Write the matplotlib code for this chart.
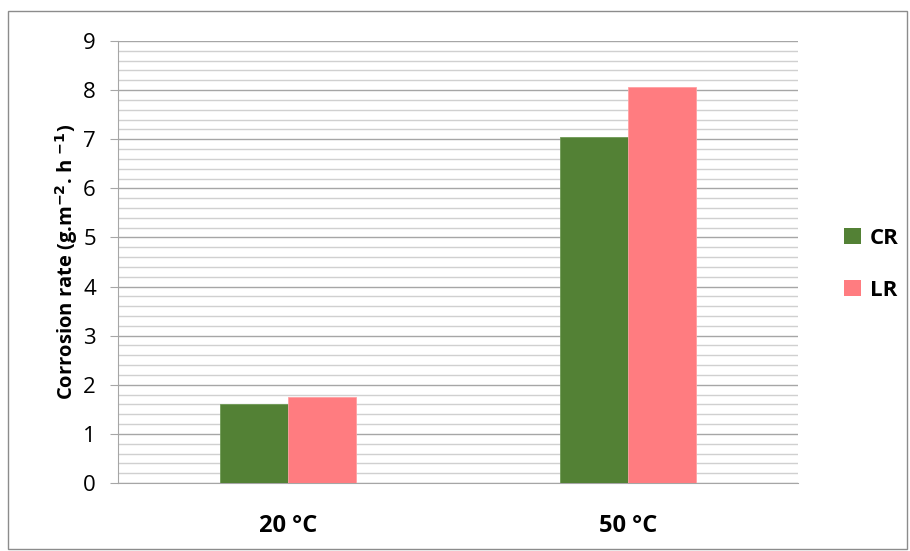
import numpy as np
import matplotlib.pyplot as plt
from matplotlib.patches import Rectangle, Patch

categories = ["20 °C", "50 °C"]
series = ["CR", "LR"]
cr_values = [1.61, 7.05]
lr_values = [1.75, 8.06]
colors = ["#538135", "#FF7C80"]

plt.rcParams["font.family"] = ["Open Sans", "DejaVu Sans"]

fig = plt.figure(figsize=(9.1, 5.51), dpi=100)
ax = fig.add_axes([0.1297, 0.1234, 0.7473, 0.8022])

# outer chart frame
fig.patches.append(Rectangle((0.009, 0.004), 0.988, 0.976, transform=fig.transFigure,
                             fill=False, edgecolor="#8c8c8c", linewidth=1.0))

x = np.arange(len(categories))
w = 0.2
ax.bar(x - w / 2, cr_values, w, color=colors[0], edgecolor="#6f9a55", linewidth=0.6, zorder=3)
ax.bar(x + w / 2, lr_values, w, color=colors[1], edgecolor="#ffa0a3", linewidth=0.6, zorder=3)

ax.set_xlim(-0.5, 1.5)
ax.set_ylim(0, 9)
ax.set_yticks(range(10))
ax.set_yticks(np.arange(0, 9.01, 0.2), minor=True)
ax.grid(axis="y", which="major", color="#a6a6a6", linewidth=1.0, zorder=0)
ax.grid(axis="y", which="minor", color="#d0d0d0", linewidth=1.0, zorder=0)
ax.tick_params(axis="y", which="major", length=6, color="#a6a6a6", labelsize=16, pad=10)
ax.tick_params(axis="y", which="minor", length=0)
ax.set_xticks(x)
ax.set_xticklabels(categories, fontsize=17, fontweight="bold")
ax.tick_params(axis="x", length=0, pad=22)

for s in ["top", "right"]:
    ax.spines[s].set_visible(False)
ax.spines["left"].set_color("#a6a6a6")
ax.spines["bottom"].set_color("#a6a6a6")

ax.set_ylabel("Corrosion rate (g.m$^{\\mathbf{-2}}$. h $^{\\mathbf{-1}}$)",
              fontsize=14.5, fontweight="bold", labelpad=2)

handles = [Patch(facecolor=c, edgecolor="none") for c in colors]
leg = fig.legend(handles, series, loc="center left", bbox_to_anchor=(0.906, 0.52),
                 frameon=False, prop={"size": 16, "weight": "bold"},
                 handlelength=0.75, handleheight=0.75, labelspacing=1.4, handletextpad=0.4)

fig.savefig("out.png", dpi=100)
